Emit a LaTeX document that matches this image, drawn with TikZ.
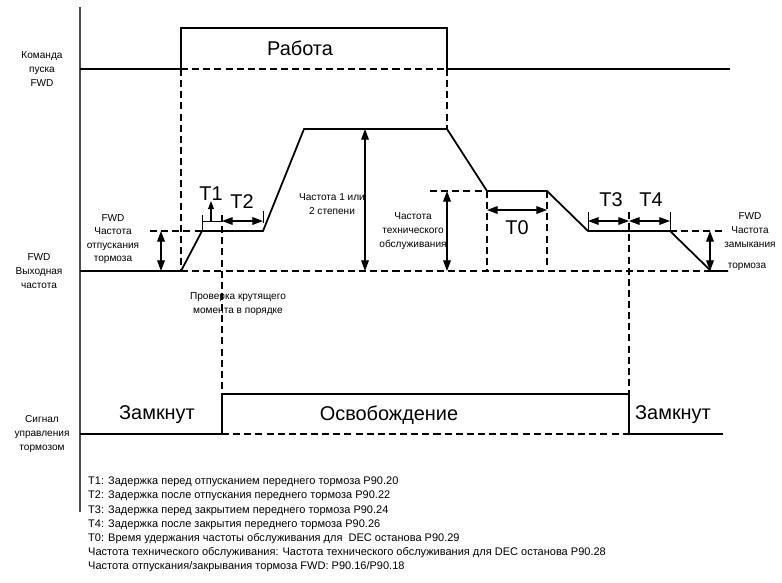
\documentclass[tikz,border=0pt]{standalone}
\usepackage{fontspec}
\setmainfont{Liberation Sans}
\usetikzlibrary{arrows.meta}

\begin{document}
\begin{tikzpicture}[x=0.03cm,y=-0.03cm,
		wave/.style={line width=1.5pt},
		guide/.style={line width=0.9pt, dash pattern=on 6pt off 3.5pt},
		span/.style={line width=0.9pt, {Triangle[length=9pt,width=6.5pt]}-{Triangle[length=9pt,width=6.5pt]}},
		lbl/.style={font=\fontsize{8.6}{11.6}\selectfont, align=center, inner sep=0pt},
		big/.style={font=\fontsize{17}{19}\selectfont, inner sep=0pt},
		notes/.style={font=\fontsize{9.4}{12}\selectfont, align=left, anchor=north west, inner sep=0pt}]
	
	\useasboundingbox (0,0) rectangle (782,582);
	
	% axis
	\draw[line width=0.9pt, black!70] (80,7) -- (80,512);
	
	% key points
	\coordinate (c0) at (80,69);  \coordinate (c1) at (181,69);
	\coordinate (c2) at (447,69); \coordinate (c3) at (730,69);
	\coordinate (f0) at (80,271); \coordinate (f1) at (181,271);
	\coordinate (f2) at (202,231); \coordinate (f3) at (263,231);
	\coordinate (f4) at (304,129); \coordinate (f5) at (447,129);
	\coordinate (f6) at (487,191); \coordinate (f7) at (547,191);
	\coordinate (f8) at (588,231); \coordinate (f9) at (670,231);
	\coordinate (f10) at (711,271); \coordinate (f11) at (728,271);
	\coordinate (s0) at (80,434);  \coordinate (s1) at (222,434);
	\coordinate (s2) at (629,434); \coordinate (s3) at (723,434);
	
	% run command
	\draw[wave] (c0) -- (c1) -- (181,28) -- (447,28) -- (c2) -- (c3);
	\draw[guide] (c1) -- (c2);
	\node[big] (run) at (300,48) {Работа};
	\node[lbl] (cmdlbl) at (42,69) {Команда\\пуска\\FWD};
	
	% output frequency
	\draw[wave] (f0) -- (f1) -- (f2) -- (f3) -- (f4) -- (f5) -- (f6) -- (f7)
		-- (f8) -- (f9) -- (f10) -- (f11);
	\draw[guide] (f1) -- (f10);
	\draw[guide] (c1) -- (f1);
	\draw[guide] (c2) -- (f5);
	\node[lbl] (outlbl) at (39,271) {FWD\\Выходная\\частота};
	
	% brake release frequency
	\draw[guide] (150,231) -- (f2);
	\draw[span] (161,231) -- (161,271);
	\node[lbl] (rellbl) at (113,239) {FWD\\Частота\\отпускания\\тормоза};
	
	% T1, T2
	\coordinate (t1a) at (202,221); \coordinate (t1b) at (222,221);
	\coordinate (t2b) at (263,221);
	\draw[line width=0.6pt] (202,215) -- (f2);
	\draw[line width=0.6pt] (t1a) -- (t1b);
	\draw[line width=0.9pt, -{Triangle[length=7pt,width=5pt]}] (211,221) -- (211,201);
	\node[big] (tone) at (211,194) {T1};
	\draw[guide] (222,215) -- (222,394);
	\draw[span] (t1b) -- (t2b);
	\draw[line width=0.6pt] (263,211) -- (263,223);
	\node[big] (ttwo) at (242,202) {T2};
	\node[lbl] (chklbl) at (238,304) {Проверка крутящего\\момента в порядке};
	
	% step frequency
	\draw[span] (365,129) -- (365,271);
	\node[lbl] (steplbl) at (332,204) {Частота 1 или\\2 степени};
	
	% maintenance frequency
	\draw[guide] (430,191) -- (f6);
	\draw[span] (447,191) -- (447,271);
	\node[lbl] (mntlbl) at (413,231) {Частота\\технического\\обслуживания};
	
	% T0
	\draw[guide] (f6) -- (487,271);
	\draw[guide] (f7) -- (547,267);
	\draw[span] (487,210) -- (547,210);
	\node[big] (tzero) at (517,228) {T0};
	
	% T3, T4
	\coordinate (t3a) at (588,221); \coordinate (t3b) at (629,221);
	\coordinate (t4b) at (670,221);
	\draw[line width=0.6pt] (588,212) -- (f8);
	\draw[line width=0.6pt] (670,212) -- (f9);
	\draw[guide] (629,212) -- (629,394);
	\draw[span] (t3a) -- (t3b);
	\draw[span] (t3b) -- (t4b);
	\node[big] (tthree) at (611,200) {T3};
	\node[big] (tfour) at (651,200) {T4};
	
	% brake close frequency
	\draw[guide] (f9) -- (723,231);
	\draw[span] (710,231) -- (710,271);
	\node[lbl] (clslbl) at (750,230) {FWD\\Частота\\замыкания};
	\node[lbl] (clsbot) at (747,267) {тормоза};
	
	% brake signal
	\draw[wave] (s0) -- (s1) -- (222,394) -- (629,394) -- (s2) -- (s3);
	\draw[guide] (s1) -- (s2);
	\node[big] (closeA) at (157,415) {Замкнут};
	\node[big] (release) at (389,415) {Освобождение};
	\node[big] (closeB) at (673,415) {Замкнут};
	\node[lbl] (siglbl) at (42,434) {Сигнал\\управления\\тормозом};
	
	% notes
	\node[notes] (notes) at (88,477) {T1: Задержка перед отпусканием переднего тормоза P90.20\\
		T2: Задержка после отпускания переднего тормоза P90.22\\
		T3: Задержка перед закрытием переднего тормоза P90.24\\
		T4: Задержка после закрытия переднего тормоза P90.26\\
		T0: Время удержания частоты обслуживания для\ \ DEC останова P90.29\\
		Частота технического обслуживания: Частота технического обслуживания для DEC останова P90.28\\
		Частота отпускания/закрывания тормоза FWD: P90.16/P90.18};
	
\end{tikzpicture}
\end{document}
